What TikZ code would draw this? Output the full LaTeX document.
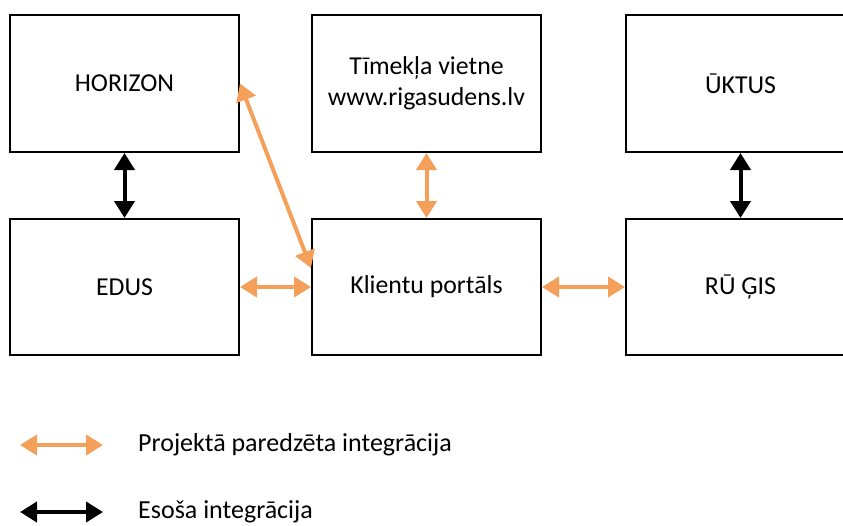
\documentclass[tikz,border=0pt]{standalone}
\usepackage{fontspec}
\setmainfont{Carlito}
\usetikzlibrary{arrows.meta}
\definecolor{orng}{HTML}{F5A05A}
\begin{document}
\begin{tikzpicture}[x=1pt,y=-1pt,
  sysbox/.style={draw=black,line width=2pt,minimum width=229pt,minimum height=137pt,inner sep=0pt,font=\fontsize{25.8}{31}\selectfont,align=center},
  planned/.style={draw=orng,line width=4pt,{Triangle[width=20pt,length=17pt]}-{Triangle[width=20pt,length=17pt]}},
  existing/.style={draw=black,line width=4pt,{Triangle[width=20pt,length=17pt]}-{Triangle[width=20pt,length=17pt]}},
  legtext/.style={anchor=west,inner sep=0pt,font=\fontsize{26}{31}\selectfont}]
\useasboundingbox (0,0) rectangle (843,525);
\begin{scope}
\clip (0,0) rectangle (843,525);
\node[sysbox] (hz) at (124.5,83.5) {HORIZON};
\node[sysbox] (web) at (426.5,83.5) {Tīmekļa vietne\\www.rigasudens.lv};
\node[sysbox] (uk) at (740.5,83.5) {ŪKTUS};
\node[sysbox,minimum height=136pt] (ed) at (124.5,287) {EDUS};
\node[sysbox,minimum height=136pt] (kp) at (426.5,287) {Klientu portāls};
\node[sysbox,minimum height=136pt] (rg) at (740.5,287) {RŪ ĢIS};
\end{scope}
\draw[existing] (hz.south) -- (ed.north);
\draw[existing] (uk.south) -- (rg.north);
\draw[planned] (web.south) -- (kp.north);
\draw[planned] (ed.east) -- (kp.west);
\draw[planned] (kp.east) -- (rg.west);
\draw[planned] (hz.east) -- ([yshift=19pt]kp.west);
\coordinate (l1a) at (20,445);
\coordinate (l1b) at (103,445);
\coordinate (l2a) at (20,512);
\coordinate (l2b) at (103,512);
\draw[planned] (l1a) -- (l1b);
\draw[existing] (l2a) -- (l2b);
\node[legtext] (t1) at (138,445) {Projektā paredzēta integrācija};
\node[legtext] (t2) at (138,512) {Esoša integrācija};
\end{tikzpicture}
\end{document}
